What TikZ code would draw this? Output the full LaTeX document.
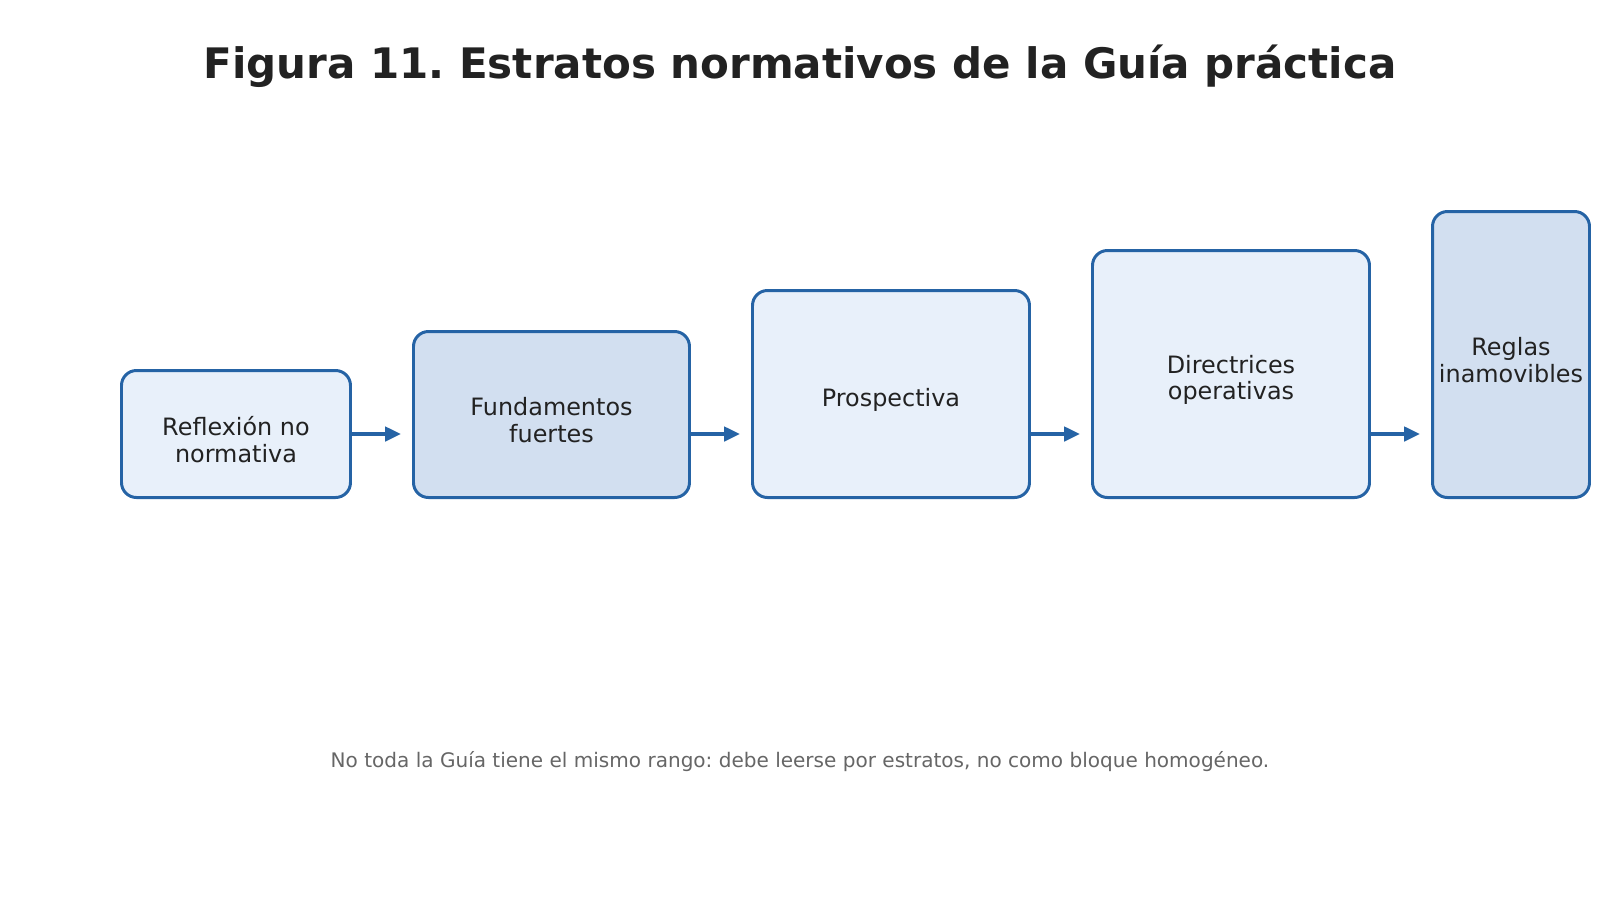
\documentclass[tikz,border=0pt]{standalone}
\usepackage{fontspec}
\setmainfont{DejaVu Sans}
\usepackage{tikz}
\usetikzlibrary{arrows.meta,positioning}
\definecolor{strokeblue}{HTML}{2563A5}
\definecolor{lightfill}{HTML}{E8F0FA}
\definecolor{darkfill}{HTML}{D2DFF0}
\definecolor{textdark}{HTML}{222222}
\definecolor{captiongray}{HTML}{666666}
\newcommand{\toppad}{\rule{0pt}{8.5pt}}
\frenchspacing

\begin{document}
\begin{tikzpicture}[x=0.1mm,y=-0.1mm,
	stratum/.style={draw=strokeblue, line width=0.85pt, rounded corners=1.5mm, align=center,
		anchor=south west, inner sep=0pt, text=textdark, font=\fontsize{6.8}{7.6}\selectfont},
	flow/.style={draw=strokeblue, line width=1.1pt, -{Triangle[length=4.5pt,width=4pt]}, shorten >=1.1mm}]
%	\draw [step=100,thin,dotted] (0,0) grid (1600,900);
	\fill [white] (0,0) rectangle (1600,900);
	\useasboundingbox (0,0) rectangle (1600,900);

	\node [anchor=base, text=textdark, font=\fontsize{11.95}{14}\selectfont\bfseries] (title) at (800,79) {Figura 11. Estratos normativos de la Guía práctica};

	\node [stratum, fill=lightfill, minimum width=22.9mm, minimum height=12.7mm] (reflexion) at (120,499) {\toppad Reflexión no\\normativa};
	\node [stratum, fill=darkfill, minimum width=27.6mm, minimum height=16.6mm] (fundamentos) at (412,499) {\toppad Fundamentos\\fuertes};
	\node [stratum, fill=lightfill, minimum width=27.7mm, minimum height=20.7mm] (prospectiva) at (751,499) {\toppad Prospectiva};
	\node [stratum, fill=lightfill, minimum width=27.7mm, minimum height=24.7mm] (directrices) at (1091,499) {\toppad Directrices\\operativas};
	\node [stratum, fill=darkfill, minimum width=15.7mm, minimum height=28.6mm] (reglas) at (1431,499) {\toppad Reglas\\inamovibles};

	\draw [flow] (reflexion.east) -- (reflexion.east -| fundamentos.west);
	\draw [flow] (fundamentos.east |- reflexion.east) -- (prospectiva.west |- reflexion.east);
	\draw [flow] (prospectiva.east |- reflexion.east) -- (directrices.west |- reflexion.east);
	\draw [flow] (directrices.east |- reflexion.east) -- (reglas.west |- reflexion.east);

	\node [anchor=base, text=captiongray, font=\fontsize{5.7}{7}\selectfont] (caption) at (800,767) {No toda la Guía tiene el mismo rango: debe leerse por estratos, no como bloque homogéneo.};
\end{tikzpicture}
\end{document}
